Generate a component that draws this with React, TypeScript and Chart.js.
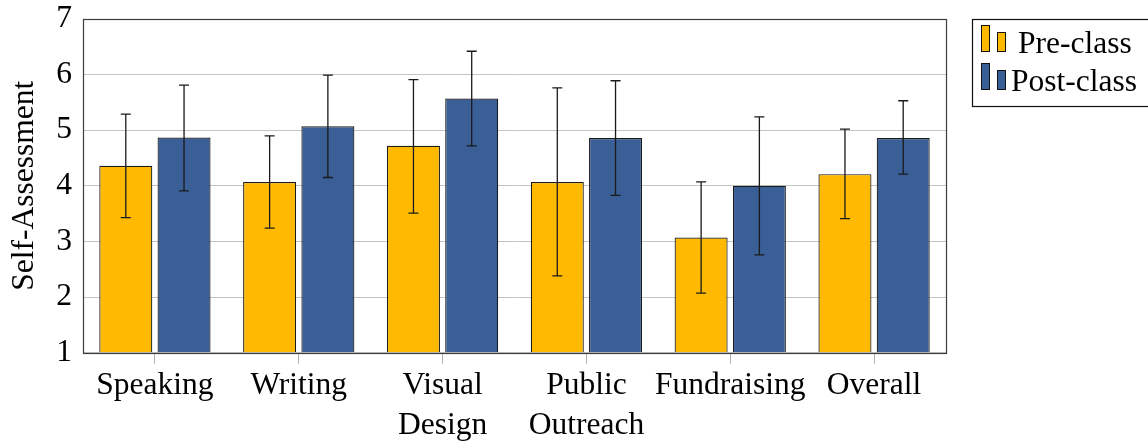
import React, { useEffect, useRef } from "react";
import { Chart, registerables } from "chart.js";

Chart.register(...registerables);

const categories = [["Speaking"], ["Writing"], ["Visual", "Design"], ["Public", "Outreach"], ["Fundraising"], ["Overall"]];
const seriesNames = ["Pre-class", "Post-class"];
const preValues = [4.36, 4.07, 4.72, 4.07, 3.07, 4.21];
const preErrHigh = [5.29, 4.9, 5.91, 5.76, 4.07, 5.02];
const preErrLow = [3.43, 3.24, 3.51, 2.38, 2.07, 3.41];
const postValues = [4.87, 5.07, 5.57, 4.86, 4.0, 4.86];
const postErrHigh = [5.81, 5.99, 6.42, 5.89, 5.24, 5.53];
const postErrLow = [3.91, 4.15, 4.72, 3.83, 2.76, 4.21];
const yTicks = [1, 2, 3, 4, 5, 6, 7];

const FONT = '"Liberation Serif", "Times New Roman", serif';
const FS = 31.5;
const YELLOW = "#FFB900";
const BLUE = "#3A5E96";

const errorBars = [
  { low: preErrLow, high: preErrHigh },
  { low: postErrLow, high: postErrHigh },
];

const errorBarPlugin = {
  id: "errorBars",
  afterDatasetsDraw(chart: any) {
    const ctx = chart.ctx;
    const yScale = chart.scales.y;
    ctx.save();
    ctx.strokeStyle = "#1a1a1a";
    ctx.lineWidth = 1.3;
    chart.data.datasets.forEach((_: any, di: number) => {
      const meta = chart.getDatasetMeta(di);
      const eb = errorBars[di];
      meta.data.forEach((bar: any, i: number) => {
        const x = bar.x;
        const yh = yScale.getPixelForValue(eb.high[i]);
        const yl = yScale.getPixelForValue(eb.low[i]);
        ctx.beginPath();
        ctx.moveTo(x, yh);
        ctx.lineTo(x, yl);
        ctx.moveTo(x - 5, yh);
        ctx.lineTo(x + 5, yh);
        ctx.moveTo(x - 5, yl);
        ctx.lineTo(x + 5, yl);
        ctx.stroke();
      });
    });
    ctx.restore();
  },
};

const framePlugin = {
  id: "frame",
  afterDraw(chart: any) {
    const { ctx, chartArea } = chart;
    ctx.save();
    ctx.strokeStyle = "#3c3c3c";
    ctx.lineWidth = 1.2;
    ctx.strokeRect(
      Math.round(chartArea.left) + 0.5,
      Math.round(chartArea.top) + 0.5,
      Math.round(chartArea.right - chartArea.left),
      Math.round(chartArea.bottom - chartArea.top)
    );
    // legend
    ctx.strokeStyle = "#111";
    ctx.lineWidth = 1.2;
    ctx.strokeRect(972.5, 19.5, 180, 87);
    ctx.font = FS + "px " + FONT;
    ctx.textBaseline = "alphabetic";
    const rows = [
      { y0: 25, textX: 1018, base: 52.5 },
      { y0: 63, textX: 1011, base: 90.5 },
    ];
    chart.data.datasets.forEach((ds: any, i: number) => {
      const r = rows[i];
      ctx.fillStyle = ds.backgroundColor;
      ctx.strokeStyle = "#111";
      ctx.lineWidth = 1;
      ctx.fillRect(981.5, r.y0 + 0.5, 8, 26);
      ctx.strokeRect(981.5, r.y0 + 0.5, 8, 26);
      ctx.fillRect(997.5, r.y0 + 7.5, 8, 19);
      ctx.strokeRect(997.5, r.y0 + 7.5, 8, 19);
      ctx.fillStyle = "#000";
      ctx.fillText(ds.label, r.textX, r.base);
    });
    ctx.restore();
  },
};

export default function App() {
  const ref = useRef<HTMLCanvasElement>(null);
  useEffect(() => {
    document.body.style.margin = "0";
    const chart = new Chart(ref.current as HTMLCanvasElement, {
      type: "bar",
      data: {
        labels: categories as any,
        datasets: [
          {
            label: seriesNames[0],
            data: preValues,
            backgroundColor: YELLOW,
            borderColor: "#1a1a1a",
            borderWidth: 1.2,
            base: 1,
            categoryPercentage: 0.81,
            barPercentage: 0.91,
          } as any,
          {
            label: seriesNames[1],
            data: postValues,
            backgroundColor: BLUE,
            borderColor: "#1a1a1a",
            borderWidth: 1.2,
            base: 1,
            categoryPercentage: 0.81,
            barPercentage: 0.91,
          } as any,
        ],
      },
      options: {
        responsive: false,
        animation: false,
        layout: { padding: { left: 0, top: 19, right: 202, bottom: 0 } },
        plugins: {
          legend: { display: false },
          tooltip: { enabled: false },
        },
        scales: {
          x: {
            offset: true,
            grid: {
              display: true,
              drawOnChartArea: false,
              drawTicks: true,
              tickLength: 11,
              color: "#b0b0b0",
              offset: false,
            },
            border: { display: false },
            ticks: {
              color: "#000",
              font: { family: FONT, size: FS, lineHeight: 1.24 },
              padding: 3,
              maxRotation: 0,
              autoSkip: false,
            },
            afterFit(scale: any) {
              scale.height = 91.3;
              scale.paddingLeft = 0;
              scale.paddingRight = 0;
            },
          },
          y: {
            min: 1,
            max: 7,
            afterBuildTicks(scale: any) {
              scale.ticks = yTicks.map((v) => ({ value: v }));
            },
            grid: { color: "#c4c4c4", drawTicks: false, lineWidth: 1 },
            border: { display: false },
            ticks: {
              color: "#000",
              font: { family: FONT, size: FS },
              padding: 11,
            },
            title: {
              display: true,
              text: "Self-Assessment",
              color: "#000",
              font: { family: FONT, size: FS },
              padding: { top: 6, bottom: 0 },
            },
            afterFit(scale: any) {
              scale.width = 83;
              scale.paddingTop = 0;
              scale.paddingBottom = 0;
            },
          },
        },
      },
      plugins: [errorBarPlugin, framePlugin],
    });
    return () => chart.destroy();
  }, []);
  return (
    <div style={{ position: "absolute", left: 0, top: 0, width: 1148, height: 444, background: "#fff" }}>
      <canvas ref={ref} width={1148} height={444} />
    </div>
  );
}
